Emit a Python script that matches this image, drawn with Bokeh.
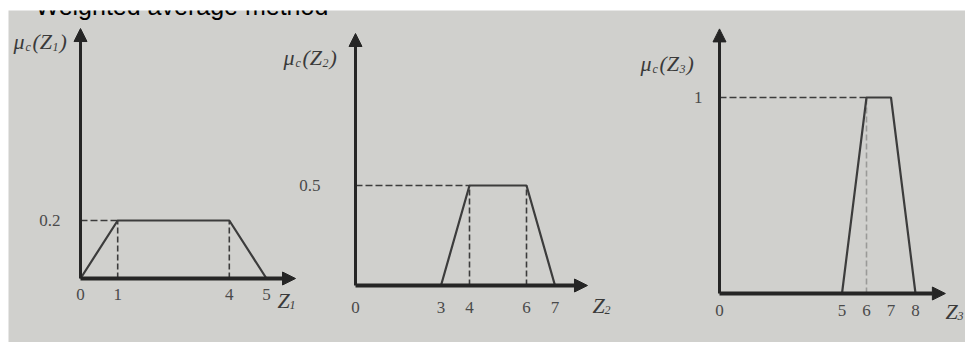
from bokeh.plotting import figure
from bokeh.models import Range1d, Arrow, NormalHead, Label
from bokeh.embed import file_html
from bokeh.resources import INLINE
from bokeh.core.properties import value

# ---------------- data ----------------
title_text = "Weighted average method"

z1_x = [0, 1, 4, 5]
z1_mu = [0, 0.2, 0.2, 0]
z1_ticks = [0, 1, 4, 5]
z1_tick_labels = ["0", "1", "4", "5"]
z1_level_label = "0.2"

z2_x = [3, 4, 6, 7]
z2_mu = [0, 0.5, 0.5, 0]
z2_ticks = [0, 3, 4, 6, 7]
z2_tick_labels = ["0", "3", "4", "6", "7"]
z2_level_label = "0.5"

z3_x = [5, 6, 7, 8]
z3_mu = [0, 1, 1, 0]
z3_ticks = [0, 5, 6, 7, 8]
z3_tick_labels = ["0", "5", "6", "7", "8"]
z3_level_label = "1"

var_subscripts = ["1", "2", "3"]

# ---------------- layout (page pixels) ----------------
W, H = 965, 342
LEFT, TOP = 8, 10
BG = "#d0d0cd"
AX = "#252525"
LN = "#3c3c3c"
SERIF_NAME = "Liberation Serif"
SERIF = value(SERIF_NAME)
LBL_DY = -9  # correction for label placement

charts = [
    dict(x=z1_x, mu=z1_mu, ticks=z1_ticks, tl=z1_tick_labels, lvl=z1_level_label,
         px0=80, sx=37.2, py0=278, sy=290, xend=5.78, yend=0.862,
         tick_off=10, lvl_off=20, vdash=2, ylab=(13, 50), zlab=(277, 309),
         dash_col=LN),
    dict(x=z2_x, mu=z2_mu, ticks=z2_ticks, tl=z2_tick_labels, lvl=z2_level_label,
         px0=355, sx=28.5, py0=285, sy=200, xend=8.14, yend=1.26,
         tick_off=16, lvl_off=35, vdash=2, ylab=(283, 66), zlab=(592, 314),
         dash_col=LN),
    dict(x=z3_x, mu=z3_mu, ticks=z3_ticks, tl=z3_tick_labels, lvl=z3_level_label,
         px0=719, sx=24.5, py0=293, sy=196, xend=9.22, yend=1.35,
         tick_off=11, lvl_off=17, vdash=1, ylab=(640, 72), zlab=(945, 320),
         dash_col="#9a9a98"),
]

p = figure(width=W, height=H, output_backend="svg", toolbar_location=None,
           x_axis_location=None, y_axis_location=None,
           x_range=Range1d(0, 1), y_range=Range1d(0, 1),
           min_border_left=LEFT, min_border_top=TOP,
           min_border_right=0, min_border_bottom=0,
           background_fill_color=BG, border_fill_color="white",
           outline_line_color=None)
p.grid.visible = False

for i, c in enumerate(charts):
    xn, yn = f"x{i+1}", f"y{i+1}"
    px0, sx, py0, sy = c["px0"], c["sx"], c["py0"], c["sy"]
    p.extra_x_ranges[xn] = Range1d((LEFT - px0) / sx, (W - px0) / sx)
    p.extra_y_ranges[yn] = Range1d((py0 - H) / sy, (py0 - TOP) / sy)

    def dx(px):
        return (px - px0) / sx

    def dy(py):
        return (py0 - (py + LBL_DY)) / sy

    kw = dict(x_range_name=xn, y_range_name=yn)
    xs, mu = c["x"], c["mu"]

    # dashed guides
    p.line([0, xs[1]], [mu[1], mu[1]], line_dash="7 3", line_width=1.6,
           line_color=LN, **kw)
    vx = xs[1:1 + c["vdash"]]
    vy = mu[1:1 + c["vdash"]]
    p.segment(x0=vx, y0=[0] * len(vx), x1=vx, y1=vy, line_dash="6 3",
              line_width=1.6, line_color=c["dash_col"], **kw)

    # membership function
    p.line(xs, mu, line_width=2.2, line_color=LN, **kw)

    # axes with arrows
    p.add_layout(Arrow(x_start=0, y_start=0, x_end=c["xend"], y_end=0,
                       line_width=4, line_color=AX,
                       end=NormalHead(size=13, fill_color=AX, line_color=AX),
                       **kw))
    p.add_layout(Arrow(x_start=0, y_start=0, x_end=0, y_end=c["yend"],
                       line_width=3, line_color=AX,
                       end=NormalHead(size=13, fill_color=AX, line_color=AX),
                       **kw))

    # tick labels
    p.text(x=c["ticks"], y=[0] * len(c["ticks"]), text=c["tl"],
           text_align="center", text_baseline="top", y_offset=c["tick_off"],
           text_font=SERIF, text_font_size="17px", text_color="#4a4a4a", **kw)
    p.text(x=[0], y=[mu[1]], text=[c["lvl"]], text_align="right",
           text_baseline="middle", x_offset=-c["lvl_off"],
           text_font=SERIF, text_font_size="17px", text_color="#4a4a4a", **kw)

    # y label  mu_c(Z_i)
    lx, ly = c["ylab"]
    sub = var_subscripts[i]
    pieces = [("μ", 0, 0, 22), ("c", 12, 5, 12), ("(Z", 19, 0, 22),
              (sub, 39, 5, 12), (")", 46, 0, 22)]
    for t, ox, oy, fs in pieces:
        p.add_layout(Label(x=dx(lx + ox), y=dy(ly + oy), text=t,
                           text_font=SERIF_NAME, text_font_style="italic",
                           text_font_size=f"{fs}px", text_color="#3a3a3a",
                           text_baseline="alphabetic", **kw))

    # x label Z_i
    zx, zy = c["zlab"]
    p.add_layout(Label(x=dx(zx), y=dy(zy), text="Z", text_font=SERIF_NAME,
                       text_font_style="italic", text_font_size="22px",
                       text_color="#3a3a3a", text_baseline="alphabetic", **kw))
    p.add_layout(Label(x=dx(zx + 12), y=dy(zy + 4), text=sub, text_font=SERIF_NAME,
                       text_font_style="italic", text_font_size="12px",
                       text_color="#3a3a3a", text_baseline="alphabetic", **kw))

    if i == 0:
        p.add_layout(Label(x=dx(35), y=dy(14), text=title_text,
                           text_font="Liberation Sans",
                           text_font_size="25px", text_color="black",
                           text_baseline="alphabetic", **kw))

open("out.html", "w").write(file_html(p, INLINE))
